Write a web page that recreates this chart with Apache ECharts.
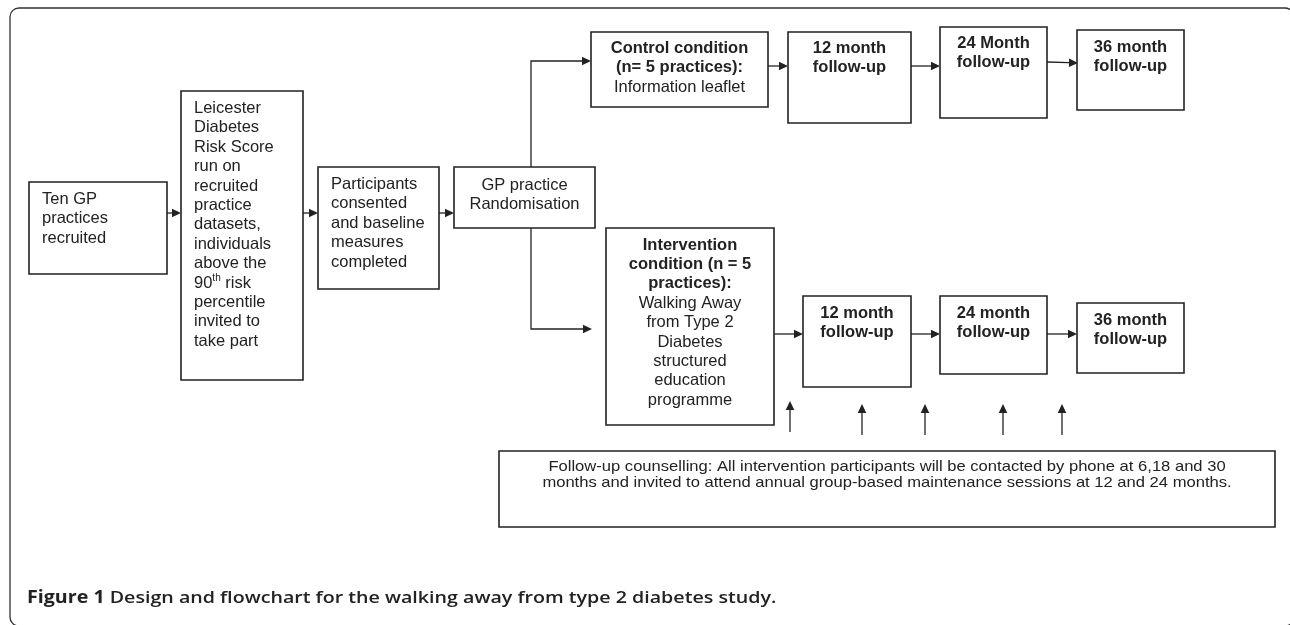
<!DOCTYPE html>
<html><head><meta charset="utf-8">
<script src="https://cdn.jsdelivr.net/npm/echarts@6/dist/echarts.min.js"></script>
<style>html,body{margin:0;padding:0;background:#fff}#c{width:1290px;height:625px}</style>
</head><body><div id="c"></div>
<script>
// ---- text content of each box ----
const boxLabels = [
  ['Ten GP', 'practices', 'recruited'],
  ['Leicester', 'Diabetes', 'Risk Score', 'run on', 'recruited', 'practice', 'datasets,', 'individuals', 'above the', '90{sup|th} risk', 'percentile', 'invited to', 'take part'],
  ['Participants', 'consented', 'and baseline', 'measures', 'completed'],
  ['GP practice', 'Randomisation'],
  ['{b|Control condition}', '{b|(n= 5 practices):}', 'Information leaflet'],
  ['{b|12 month}', '{b|follow-up}'],
  ['{b|24 Month}', '{b|follow-up}'],
  ['{b|36 month}', '{b|follow-up}'],
  ['{b|Intervention}', '{b|condition (n = 5}', '{b|practices):}', 'Walking Away', 'from Type 2', 'Diabetes', 'structured', 'education', 'programme'],
  ['{b|12 month}', '{b|follow-up}'],
  ['{b|24 month}', '{b|follow-up}'],
  ['{b|36 month}', '{b|follow-up}'],
  ['Follow-up counselling: All intervention participants will be contacted by phone at 6,18 and 30',
   'months and invited to attend annual group-based maintenance sessions at 12 and 24 months.']
];
const captionBold = 'Figure 1';
const captionText = 'Design and flowchart for the walking away from type 2 diabetes study.';

// ---- layout (diagram coordinates) ----
// [x0, y0, x1, y1, textAlign, firstLineCenterY]
const boxLayout = [
  [29, 182, 167, 274, 'left', 199.5],
  [181, 91, 303, 380, 'left', 108.5],
  [318, 167, 439, 289, 'left', 184.5],
  [454, 167, 595, 228, 'center', 185],
  [591, 32, 768, 107, 'center', 48.5],
  [788, 32, 911, 123, 'center', 48.5],
  [940, 27, 1047, 118, 'center', 43.5],
  [1077, 30, 1184, 110, 'center', 47.5],
  [606, 228, 774, 425, 'center', 245],
  [803, 296, 911, 387, 'center', 313.5],
  [940, 296, 1047, 374, 'center', 313.5],
  [1077, 303, 1184, 373, 'center', 320.5],
  [499, 451, 1275, 527, 'center', 467]
];
// arrows: polyline points, arrowhead at last point
const arrowPaths = [
  [[167, 213], [181, 213]],
  [[303, 213], [318, 213]],
  [[439, 213], [454, 213]],
  [[531, 167], [531, 61], [591, 61]],
  [[531, 228], [531, 329], [592, 329]],
  [[768, 66], [788, 66]],
  [[911, 66], [940, 66]],
  [[1047, 62], [1078, 63]],
  [[774, 334], [803, 334]],
  [[911, 334], [940, 334]],
  [[1047, 334], [1077, 334]],
  [[790, 432], [790, 401]],
  [[862, 435], [862, 404]],
  [[925, 435], [925, 404]],
  [[1003, 435], [1003, 404]],
  [[1062, 435], [1062, 404]]
];

const FF = '"Liberation Sans", Arial, Helvetica, sans-serif';
const CF = '"Open Sans", sans-serif';
const INK = '#222';

const chart = echarts.init(document.getElementById('c'));

function boxRender(params, api) {
  const i = params.dataIndex;
  const L = boxLayout[i];
  const p0 = api.coord([L[0], L[1]]);
  const p1 = api.coord([L[2], L[3]]);
  const small = i === boxLayout.length - 1;
  const fs = small ? 15 : 16.5;
  const lh = small ? 15.5 : 19.4;
  const tx = L[4] === 'left' ? api.coord([L[0] + 13, 0])[0] : (p0[0] + p1[0]) / 2;
  const ty = api.coord([0, L[5]])[1] - lh / 2;
  return {
    type: 'group',
    children: [
      {
        type: 'rect',
        shape: { x: Math.min(p0[0], p1[0]), y: Math.min(p0[1], p1[1]), width: Math.abs(p1[0] - p0[0]), height: Math.abs(p1[1] - p0[1]) },
        style: { fill: '#fff', stroke: INK, lineWidth: 1.6 }
      },
      {
        type: 'text',
        x: tx, y: ty,
        scaleX: small ? 1.105 : 1,
        style: {
          text: boxLabels[i].join('\n'),
          align: L[4], verticalAlign: 'top',
          fill: INK, fontFamily: FF, fontSize: fs, lineHeight: lh,
          rich: {
            b: { fontFamily: FF, fontSize: fs, fontWeight: 'bold', lineHeight: lh, fill: INK },
            sup: { fontFamily: FF, fontSize: 10, lineHeight: 12, verticalAlign: 'top', fill: INK }
          }
        }
      }
    ]
  };
}

function arrowRender(params, api) {
  const pts = arrowPaths[params.dataIndex].map(p => api.coord(p));
  const n = pts.length;
  const a = pts[n - 2], b = pts[n - 1];
  const dx = b[0] - a[0], dy = b[1] - a[1];
  const len = Math.sqrt(dx * dx + dy * dy) || 1;
  const ux = dx / len, uy = dy / len;
  const hl = 9, hw = 4.3;
  const bx = b[0] - ux * hl, by = b[1] - uy * hl;
  const line = pts.slice(0, n - 1).concat([[bx, by]]);
  return {
    type: 'group',
    children: [
      { type: 'polyline', shape: { points: line }, style: { stroke: INK, lineWidth: 1.3, fill: null } },
      { type: 'polygon', shape: { points: [b, [bx - uy * hw, by + ux * hw], [bx + uy * hw, by - ux * hw]] }, style: { fill: INK } }
    ]
  };
}

chart.setOption({
  animation: false,
  backgroundColor: '#fff',
  grid: { left: 0, right: 0, top: 0, bottom: 0 },
  xAxis: { type: 'value', min: 0, max: 1290, show: false },
  yAxis: { type: 'value', min: 0, max: 625, inverse: true, show: false },
  graphic: [
    {
      type: 'rect', z: -1,
      shape: { x: 10, y: 8, width: 1284, height: 618, r: 9 },
      style: { fill: null, stroke: '#333', lineWidth: 1.3 }
    },
    {
      type: 'text', x: 27, y: 598, scaleX: 1.155,
      style: {
        text: '{a|' + captionBold + '} {b|' + captionText + '}',
        align: 'left', verticalAlign: 'middle',
        fill: '#222', fontFamily: CF, fontSize: 17, fontWeight: 600,
        rich: {
          a: { fontFamily: CF, fontWeight: 700, fontSize: 17, fill: '#222' },
          b: { fontFamily: CF, fontWeight: 600, fontSize: 17, fill: '#222' }
        }
      }
    }
  ],
  series: [
    {
      type: 'custom',
      renderItem: arrowRender,
      data: arrowPaths.map(p => p[p.length - 1]),
      z: 1
    },
    {
      type: 'custom',
      renderItem: boxRender,
      data: boxLayout.map(b => [b[0], b[1]]),
      z: 2
    }
  ]
});
</script>
</body></html>
